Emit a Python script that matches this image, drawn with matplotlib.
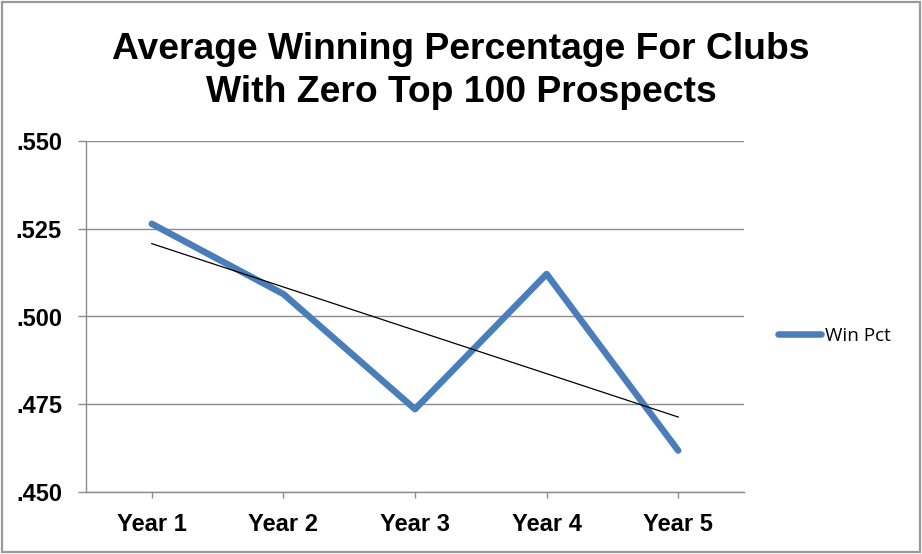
import matplotlib
matplotlib.use("Agg")
import matplotlib.pyplot as plt
import numpy as np
from matplotlib.patches import Rectangle

categories = ["Year 1", "Year 2", "Year 3", "Year 4", "Year 5"]
win_pct = [0.5264, 0.5064, 0.4736, 0.5121, 0.4618]
yticks = [0.450, 0.475, 0.500, 0.525, 0.550]
ytick_labels = [".450", ".475", ".500", ".525", ".550"]
title = "Average Winning Percentage For Clubs\nWith Zero Top 100 Prospects"
series_name = "Win Pct"

fig = plt.figure(figsize=(9.22, 5.54), dpi=100)
ax = fig.add_axes([86/922, 1-492/554, (744-86)/922, (492-141)/554])

x = np.arange(len(categories))
line_color = "#4A7EBB"
ax.plot(x, win_pct, color=line_color, lw=4.7, solid_capstyle="round",
        solid_joinstyle="round", label=series_name, zorder=3)

# linear trendline
coef = np.polyfit(x, win_pct, 1)
ax.plot(x, np.polyval(coef, x), color="black", lw=0.9, zorder=4)

ax.set_xlim(-0.5, len(categories) - 0.5)
ax.set_ylim(0.450, 0.550)
ax.set_yticks(yticks)
ax.set_yticklabels(ytick_labels)
ax.set_xticks(x)
ax.set_xticklabels(categories)

grid_color = "#8C8C8C"
ax.grid(axis="y", color=grid_color, lw=1.0)
ax.set_axisbelow(True)
for s in ["top", "right"]:
    ax.spines[s].set_visible(False)
for s in ["left", "bottom"]:
    ax.spines[s].set_color(grid_color)
    ax.spines[s].set_linewidth(1.0)

ax.tick_params(axis="y", length=5.8, width=1, color=grid_color, pad=11.5)
ax.tick_params(axis="x", length=4.3, width=1, color=grid_color, pad=10.8)
for lab in ax.get_yticklabels() + ax.get_xticklabels():
    lab.set_fontfamily("Liberation Sans")
    lab.set_fontweight("bold")
    lab.set_fontsize(17)

fig.text(0.5, 1 - 71/554, title, ha="center", va="center",
         fontfamily="Liberation Sans", fontweight="bold", fontsize=26.8,
         linespacing=1.3)

handles, labels = ax.get_legend_handles_labels()
fig.legend(handles, labels, loc="center left",
           bbox_to_anchor=(778/922, 1 - 336/554),
           bbox_transform=fig.transFigure, frameon=False,
           borderaxespad=0, borderpad=0,
           prop={"family": "Open Sans", "size": 13.6},
           handlelength=2.3, handletextpad=0.2)

# outer border
fig.patches.append(Rectangle((2/922, 2/554), 1 - 4/922, 1 - 4/554,
                             transform=fig.transFigure, fill=False,
                             edgecolor="#9A9A9A", lw=1.6))

fig.savefig("out.png", dpi=100)
